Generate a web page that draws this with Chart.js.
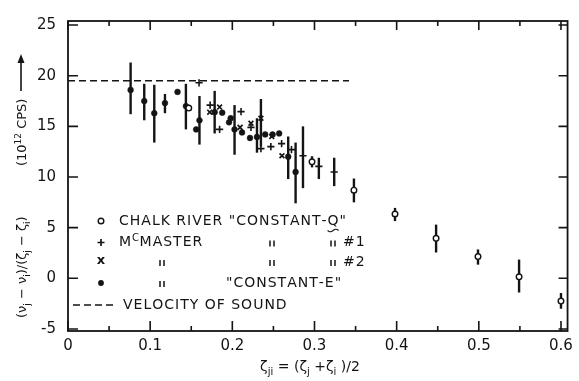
<!DOCTYPE html>
<html><head><meta charset="utf-8">
<script src="https://cdn.jsdelivr.net/npm/chart.js@4"></script>
<style>html,body{margin:0;padding:0;background:#fff}#wrap{width:579px;height:381px;position:relative}</style>
</head><body><div id="wrap"><canvas id="c" width="579" height="381"></canvas></div>
<script>
// ---- Data ----
// Chalk River "Constant-Q" (open circles)
const chalkX  = [0.147, 0.297, 0.348, 0.398, 0.448, 0.499, 0.549, 0.600];
const chalkY  = [16.8, 11.5, 8.7, 6.35, 3.95, 2.15, 0.15, -2.25];
const chalkLo = [null, 10.95, 7.5, 5.65, 2.55, 1.35, -1.4, -3.0];
const chalkHi = [null, 12.05, 9.85, 6.95, 5.3, 2.85, 1.85, -1.45];
// McMaster #1 (+)
const mcm1X  = [0.1595, 0.173, 0.1845, 0.2106, 0.2227, 0.2348, 0.2469, 0.260, 0.272, 0.286, 0.3053, 0.324];
const mcm1Y  = [19.3, 17.1, 14.7, 16.45, 14.9, 12.8, 13.0, 13.3, 12.7, 12.1, 11.05, 10.5];
const mcm1Lo = [null, null, null, null, null, null, null, null, null, 8.9, 9.8, 9.1];
const mcm1Hi = [null, null, null, null, null, null, null, null, null, 15.0, 11.9, 11.9];
// McMaster #2 (x)
const mcm2X  = [0.1725, 0.1845, 0.2094, 0.2227, 0.2348, 0.248, 0.2604];
const mcm2Y  = [16.4, 16.9, 14.9, 15.3, 15.8, 14.0, 12.1];
const mcm2Lo = [null, null, null, null, 13.0, null, null];
const mcm2Hi = [null, null, null, null, 17.7, null, null];
// McMaster "Constant-E" (filled circles)
const ceX  = [0.0762, 0.0928, 0.105, 0.118, 0.1333, 0.1435, 0.156, 0.160, 0.1785, 0.1877, 0.196, 0.198, 0.2027, 0.2118, 0.2215, 0.230, 0.240, 0.249, 0.257, 0.268, 0.277];
const ceY  = [18.6, 17.5, 16.3, 17.3, 18.4, 17.0, 14.7, 15.6, 16.4, 16.35, 15.4, 15.8, 14.7, 14.4, 13.85, 13.95, 14.2, 14.2, 14.3, 12.0, 10.5];
const ceLo = [16.2, 15.6, 13.4, 16.3, null, 14.7, null, 13.2, 14.3, null, null, null, 12.2, null, null, 12.4, null, null, null, 9.8, 7.4];
const ceHi = [21.3, 19.2, 19.1, 18.2, null, 19.2, null, 18.0, 18.5, null, null, null, 17.1, null, null, 15.8, null, null, null, 14.0, 13.4];
// Velocity of sound (dashed line)
const soundX = [0, 0.342];
const soundV = 19.5;
// Axis ticks
const xMajorTicks = [0, 0.1, 0.2, 0.3, 0.4, 0.5, 0.6];
const xMinorTicks = [0.05, 0.15, 0.25, 0.35, 0.45, 0.55];
const yMajorTicks = [-5, 0, 5, 10, 15, 20, 25];

const INK = '#141414';
const pts = (xs, ys) => xs.map((x, i) => ({x: x, y: ys[i]}));

function richText(ctx, runs, x, y, base) {
  let cx = x;
  for (const [t, m] of runs) {
    const size = m ? Math.round(base * 0.68) : base;
    ctx.font = size + 'px "DejaVu Sans"';
    const dy = m === 1 ? base * 0.3 : (m === 2 ? -base * 0.42 : 0);
    ctx.fillText(t, cx, y + dy);
    cx += ctx.measureText(t).width;
  }
  return cx - x;
}
function richWidth(ctx, runs, base) {
  let w = 0;
  for (const [t, m] of runs) {
    const size = m ? Math.round(base * 0.68) : base;
    ctx.font = size + 'px "DejaVu Sans"';
    w += ctx.measureText(t).width;
  }
  return w;
}
function spaced(ctx, text, x, y, sp) {
  let cx = x;
  for (const ch of text) { ctx.fillText(ch, cx, y); cx += ctx.measureText(ch).width + sp; }
  return cx;
}
function ditto(ctx, x, y) {
  ctx.save(); ctx.lineWidth = 1.5; ctx.beginPath();
  ctx.moveTo(x - 2, y - 3); ctx.lineTo(x - 2, y + 3);
  ctx.moveTo(x + 2, y - 3); ctx.lineTo(x + 2, y + 3);
  ctx.stroke(); ctx.restore();
}

const decor = {
  id: 'decor',
  beforeDatasetsDraw(chart) {
    const ctx = chart.ctx, xs = chart.scales.x, ys = chart.scales.y;
    ctx.save();
    ctx.strokeStyle = INK; ctx.lineWidth = 2.4; ctx.lineCap = 'butt';
    const bars = [[chalkX, chalkLo, chalkHi], [mcm1X, mcm1Lo, mcm1Hi], [mcm2X, mcm2Lo, mcm2Hi], [ceX, ceLo, ceHi]];
    for (const [X, L, H] of bars) {
      X.forEach((xv, i) => {
        if (L[i] === null) return;
        const px = xs.getPixelForValue(xv);
        ctx.beginPath(); ctx.moveTo(px, ys.getPixelForValue(L[i])); ctx.lineTo(px, ys.getPixelForValue(H[i])); ctx.stroke();
      });
    }
    ctx.restore();
  },
  afterDraw(chart) {
    const ctx = chart.ctx, xs = chart.scales.x, ys = chart.scales.y, a = chart.chartArea;
    ctx.save();
    ctx.strokeStyle = INK; ctx.fillStyle = INK;
    // frame
    ctx.lineWidth = 1.8;
    ctx.strokeRect(a.left, a.top, a.right - a.left, a.bottom - a.top);
    // inward ticks
    ctx.lineWidth = 1.6;
    ctx.beginPath();
    for (const v of xMajorTicks) { const p = xs.getPixelForValue(v); ctx.moveTo(p, a.bottom); ctx.lineTo(p, a.bottom - 10); ctx.moveTo(p, a.top); ctx.lineTo(p, a.top + 9); }
    for (const v of xMinorTicks) { const p = xs.getPixelForValue(v); ctx.moveTo(p, a.bottom); ctx.lineTo(p, a.bottom - 5); ctx.moveTo(p, a.top); ctx.lineTo(p, a.top + 5); }
    for (const v of yMajorTicks) { const p = ys.getPixelForValue(v); ctx.moveTo(a.left, p); ctx.lineTo(a.left + 10, p); ctx.moveTo(a.right, p); ctx.lineTo(a.right - 9, p); }
    ctx.stroke();

    // legend
    const sx = a.left + 33, tx = a.left + 51;
    const rows = [221, 242.5, 262, 283, 305];
    ctx.textBaseline = 'middle'; ctx.textAlign = 'left';
    ctx.font = '14px "DejaVu Sans"';
    // row 1
    ctx.lineWidth = 1.4; ctx.fillStyle = '#fff';
    ctx.beginPath(); ctx.arc(sx, rows[0], 2.8, 0, Math.PI * 2); ctx.fill(); ctx.stroke();
    ctx.fillStyle = INK;
    let endx = spaced(ctx, 'CHALK RIVER "CONSTANT-', tx, rows[0], 1);
    const qx = endx;
    endx = spaced(ctx, 'Q"', qx, rows[0], 1);
    const qw = ctx.measureText('Q').width;
    ctx.lineWidth = 1.2; ctx.beginPath();
    for (let k = 0; k <= 10; k++) { const xx = qx + qw * k / 10, yy = rows[0] + 9.5 + Math.sin(k / 10 * Math.PI * 2) * 1.3; k ? ctx.lineTo(xx, yy) : ctx.moveTo(xx, yy); }
    ctx.stroke();
    // row 2 (+)
    ctx.lineWidth = 1.7; ctx.beginPath();
    ctx.moveTo(sx - 3.5, rows[1]); ctx.lineTo(sx + 3.5, rows[1]); ctx.moveTo(sx, rows[1] - 3.5); ctx.lineTo(sx, rows[1] + 3.5); ctx.stroke();
    let mx = spaced(ctx, 'M', tx, rows[1], 1);
    ctx.font = '10px "DejaVu Sans"';
    mx = spaced(ctx, 'C', mx, rows[1] - 4, 0.5);
    ctx.font = '14px "DejaVu Sans"';
    spaced(ctx, 'MASTER', mx, rows[1], 1);
    ditto(ctx, a.left + 204, rows[1] + 1);
    ditto(ctx, a.left + 265, rows[1] + 1);
    spaced(ctx, '#1', a.left + 275, rows[1], 1);
    // row 3 (x)
    ctx.font = 'bold 13px "DejaVu Sans"'; ctx.textAlign = 'center';
    ctx.fillText('x', sx, rows[2] - 1);
    ctx.font = '14px "DejaVu Sans"'; ctx.textAlign = 'left';
    ditto(ctx, a.left + 94, rows[2] + 1);
    ditto(ctx, a.left + 204, rows[2] + 1);
    ditto(ctx, a.left + 265, rows[2] + 1);
    spaced(ctx, '#2', a.left + 275, rows[2], 1);
    // row 4 (filled)
    ctx.beginPath(); ctx.arc(sx, rows[3], 2.9, 0, Math.PI * 2); ctx.fill();
    ditto(ctx, a.left + 94, rows[3] + 1);
    spaced(ctx, '"CONSTANT-E"', a.left + 158, rows[3], 1);
    // row 5 dashed
    ctx.lineWidth = 1.6; ctx.setLineDash([7, 4]);
    ctx.beginPath(); ctx.moveTo(a.left + 5, rows[4]); ctx.lineTo(a.left + 46, rows[4]); ctx.stroke();
    ctx.setLineDash([]);
    spaced(ctx, 'VELOCITY OF SOUND', a.left + 55, rows[4], 1);

    // x-axis title
    ctx.textBaseline = 'alphabetic'; ctx.textAlign = 'left';
    const xr = [['ζ', 0], ['ji', 1], [' = (ζ', 0], ['j', 1], [' +ζ', 0], ['i', 1], [' )/2', 0]];
    const w = richWidth(ctx, xr, 14);
    richText(ctx, xr, 310 - w / 2, 371, 14);

    // y-axis title (rotated)
    ctx.translate(26, 0); ctx.rotate(-Math.PI / 2);
    const yr1 = [['(ν', 0], ['j', 1], [' − ν', 0], ['i', 1], [')/(ζ', 0], ['j', 1], [' − ζ', 0], ['i', 1], [')', 0]];
    richText(ctx, yr1, -318, 0, 13);
    const yr2 = [['(10', 0], ['12', 2], [' CPS)', 0]];
    richText(ctx, yr2, -166, 0, 13);
    ctx.lineWidth = 1.6;
    ctx.beginPath(); ctx.moveTo(-91, -5); ctx.lineTo(-60, -5); ctx.stroke();
    ctx.beginPath(); ctx.moveTo(-54, -5); ctx.lineTo(-63, -8.5); ctx.lineTo(-63, -1.5); ctx.closePath(); ctx.fill();
    ctx.restore();
  }
};

const ctx = document.getElementById('c').getContext('2d');
const fontTick = {family: '"DejaVu Sans"', size: 15};
new Chart(ctx, {
  type: 'scatter',
  data: {
    datasets: [
      {label: 'Chalk River "Constant-Q"', data: pts(chalkX, chalkY), pointStyle: 'circle', pointRadius: 2.8, backgroundColor: '#fff', borderColor: INK, borderWidth: 1.4},
      {label: 'McMaster #1', data: pts(mcm1X, mcm1Y), pointStyle: 'cross', pointRadius: 3.6, borderColor: INK, borderWidth: 1.6},
      {label: 'McMaster #2', data: pts(mcm2X, mcm2Y), pointStyle: 'crossRot', pointRadius: 3.4, borderColor: INK, borderWidth: 1.7},
      {label: 'McMaster "Constant-E"', data: pts(ceX, ceY), pointStyle: 'circle', pointRadius: 2.9, backgroundColor: INK, borderColor: INK, borderWidth: 0.5},
      {type: 'line', label: 'Velocity of sound', data: soundX.map(x => ({x: x, y: soundV})), borderColor: INK, borderWidth: 1.6, borderDash: [7, 4], pointRadius: 0, fill: false}
    ]
  },
  options: {
    responsive: false, animation: false,
    layout: {padding: {top: 15, right: 7, left: 0, bottom: 0}},
    plugins: {legend: {display: false}, tooltip: {enabled: false}},
    scales: {
      x: {
        type: 'linear', min: 0, max: 0.608,
        afterBuildTicks: s => { s.ticks = xMajorTicks.map(v => ({value: v})); },
        afterFit: s => { s.height = 50; },
        grid: {display: false, drawTicks: false}, border: {display: false},
        ticks: {autoSkip: false, maxRotation: 0, padding: 6, color: INK, font: fontTick,
          callback: v => (v === 0 ? '0' : Number(v).toFixed(1))}
      },
      y: {
        type: 'linear', min: -5.2, max: 25.4,
        afterBuildTicks: s => { s.ticks = yMajorTicks.map(v => ({value: v})); },
        afterFit: s => { s.width = 68; },
        grid: {display: false, drawTicks: false}, border: {display: false},
        ticks: {autoSkip: false, padding: 12, color: INK, font: fontTick, callback: v => String(v)}
      }
    }
  },
  plugins: [decor]
});
</script></body></html>
